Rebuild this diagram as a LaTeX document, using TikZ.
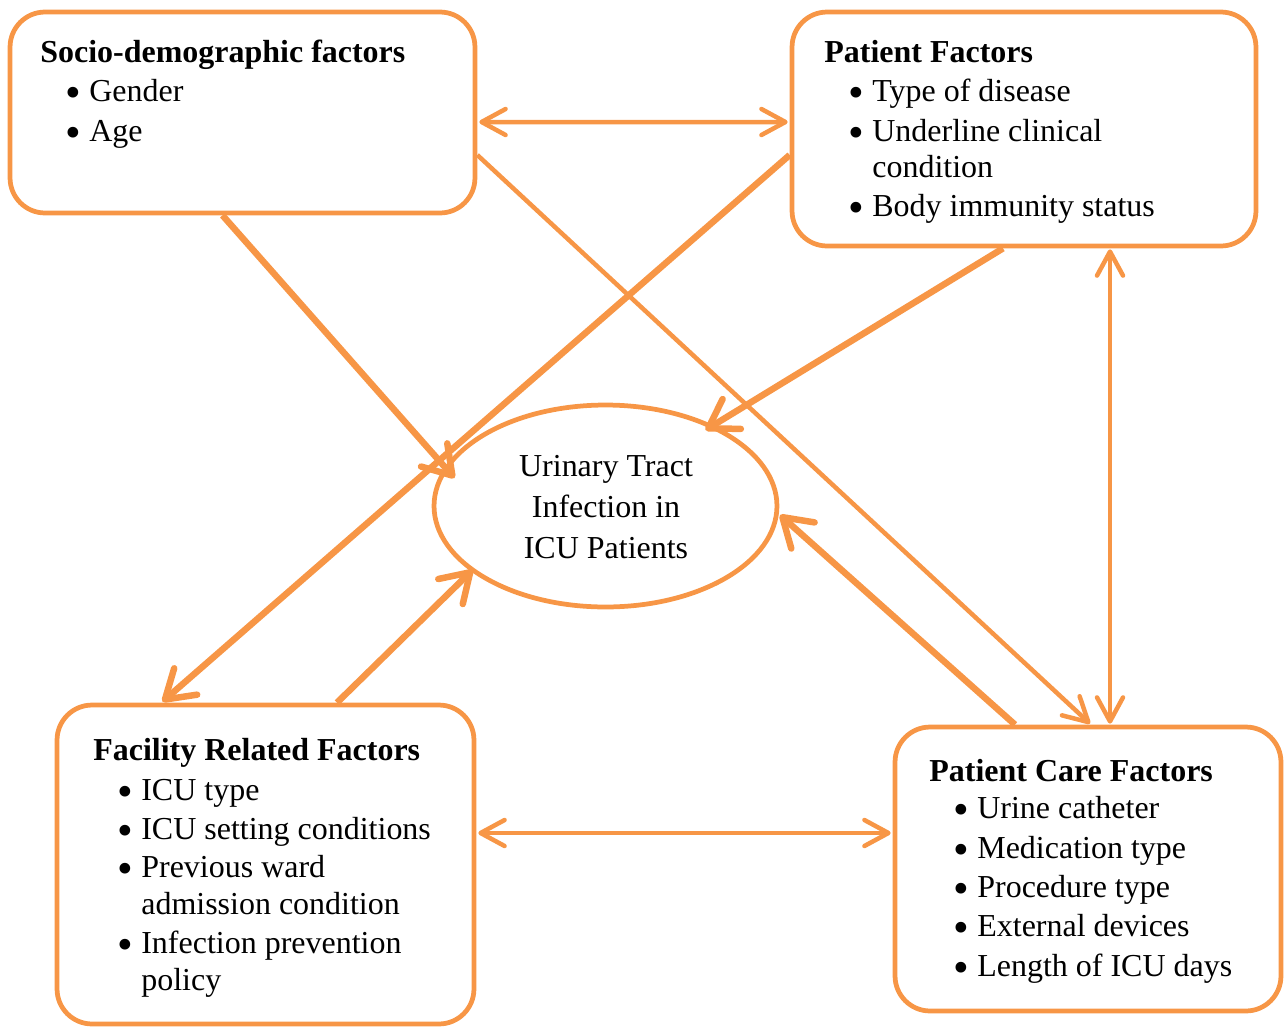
\documentclass[tikz,border=0pt]{standalone}
\usepackage{fontspec}
\setmainfont{Liberation Serif}
\usetikzlibrary{arrows.meta,shapes.geometric,calc}
\definecolor{acc}{HTML}{F79646}
\tikzset{
  frame/.style={draw=acc,line width=0.095cm,rounded corners=0.7cm,inner sep=0pt},
  oval/.style={draw=acc,line width=0.095cm,ellipse,inner sep=0pt},
  txt/.style={anchor=base west,inner sep=0pt,font=\fontsize{18.2}{22}\selectfont},
  ttl/.style={txt,font=\fontsize{18.2}{22}\selectfont\bfseries},
  ctr/.style={txt,anchor=base},
  barbA/.tip={Straight Barb[length=0.48cm,width=0.52cm,round]},
  barbB/.tip={Straight Barb[length=0.55cm,width=0.7cm,round]},
  link/.style={draw=acc,line width=0.09cm,-barbA},
  twoway/.style={draw=acc,line width=0.09cm,barbA-barbA},
  heavy/.style={draw=acc,line width=0.13cm,-barbB},
}
\newcommand\bigbul{\makebox[0.48cm][l]{\raisebox{-0.2em}[0.5em][0pt]{\scalebox{1.4}{\textbullet}}}}
\newcommand\itm[4]{\node[txt] (#1) at (#2,#3) {\bigbul#4};}
\begin{document}
\begin{tikzpicture}[x=0.02cm,y=-0.02cm]
\useasboundingbox (0,0) rectangle (1288,1028);
% boxes
\node[frame,minimum width=9.3cm,minimum height=4.02cm] (socio) at (242.5,112.5) {};
\node[frame,minimum width=9.28cm,minimum height=4.68cm] (pf) at (1024,129) {};
\node[frame,minimum width=8.34cm,minimum height=6.38cm] (fac) at (265.5,864.5) {};
\node[frame,minimum width=7.72cm,minimum height=5.68cm] (pc) at (1088,869) {};
\node[oval,minimum width=6.86cm,minimum height=4.04cm] (uti) at (605.5,506) {};
% texts
\node[ttl] (st) at (40,62) {Socio-demographic factors};
\itm{s1}{65}{101}{Gender}
\itm{s2}{65}{141}{Age}
\node[ttl] (pt) at (824,62) {Patient Factors};
\itm{p1}{848}{101}{Type of disease}
\itm{p2}{848}{141}{Underline clinical}
\node[txt] (p2c) at (872,177) {condition};
\itm{p3}{848}{216}{Body immunity status}
\node[ttl] (ft) at (93,760) {Facility Related Factors};
\itm{f1}{117}{800}{ICU type}
\itm{f2}{117}{839}{ICU setting conditions}
\itm{f3}{117}{877}{Previous ward}
\node[txt] (f3c) at (141,914) {admission condition};
\itm{f4}{117}{953}{Infection prevention}
\node[txt] (f4c) at (141,990) {policy};
\node[ttl] (ct) at (929,781) {Patient Care Factors};
\itm{c1}{953}{818}{Urine catheter}
\itm{c2}{953}{858}{Medication type}
\itm{c3}{953}{897}{Procedure type}
\itm{c4}{953}{936}{External devices}
\itm{c5}{953}{976}{Length of ICU days}
\node[ctr] (u1) at (606,476) {Urinary Tract};
\node[ctr] (u2) at (606,517) {Infection in};
\node[ctr] (u3) at (606,558) {ICU Patients};
% connectors
\draw[twoway] ($(socio.east)+(2,9.5)$) -- ($(pf.west)+(-2,-7)$);
\draw[heavy] ($(socio.south)+(-20,0)$) -- ($(uti.center)+(-151,-28)$);
\draw[link] ($(socio.east)+(0,42.5)$) -- ($(pc.north)+(2,-1)$);
\draw[heavy] ($(pf.west)+(0,26)$) -- ($(fac.north)+(-103,-1)$);
\draw[heavy] ($(pf.south)+(-21,0)$) -- ($(uti.center)+(100,-76)$);
\draw[twoway] ($(pf.south)+(86,1)$) -- ($(pc.north)+(22,-1)$);
\draw[heavy] ($(fac.north)+(71.5,0)$) -- ($(uti.center)+(-133,64)$);
\draw[heavy] ($(pc.north)+(-73,0)$) -- ($(uti.center)+(174.5,9)$);
\draw[twoway] ($(fac.east)+(2,-31.5)$) -- ($(pc.west)+(-2,-36)$);
\end{tikzpicture}
\end{document}
